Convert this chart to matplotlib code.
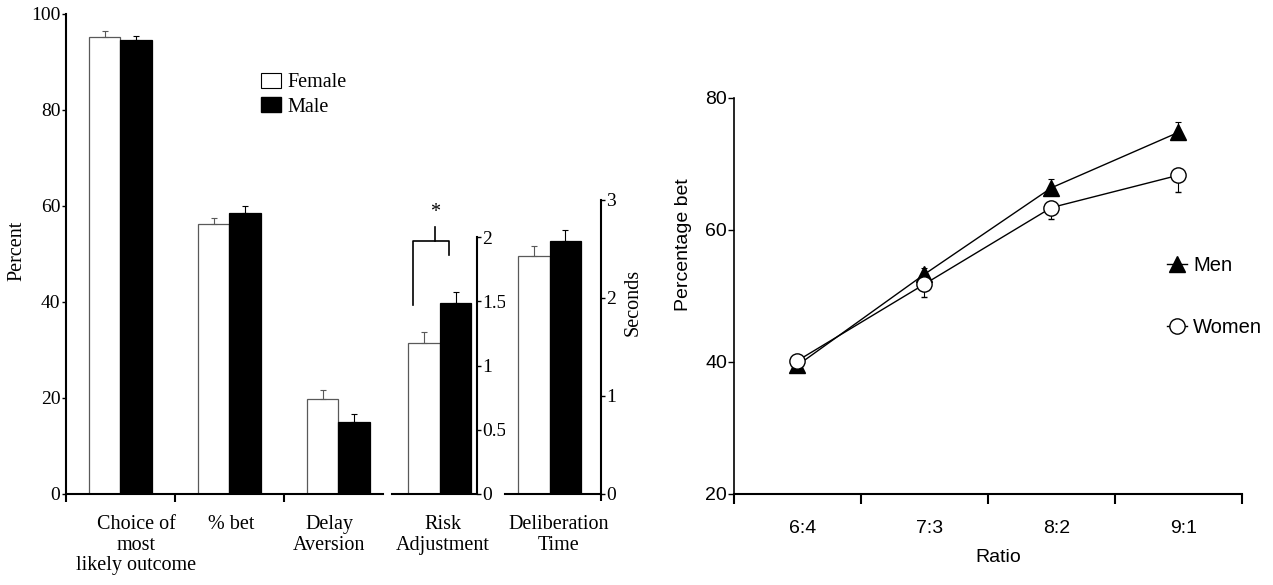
import numpy as np
import matplotlib
matplotlib.use("Agg")
import matplotlib.pyplot as plt
from matplotlib.patches import Patch
from matplotlib.lines import Line2D
from matplotlib.transforms import ScaledTranslation

# left panel: percent measures
pct_cats = ["Choice of\nmost\nlikely outcome", "% bet", "Delay\nAversion"]
pct_female = [95.3, 56.2, 19.8]
pct_female_err = [1.1, 1.4, 1.9]
pct_male = [94.6, 58.6, 15.0]
pct_male_err = [0.9, 1.3, 1.7]

# risk adjustment (own axis 0-2)
risk_female = [1.175]
risk_female_err = [0.085]
risk_male = [1.485]
risk_male_err = [0.09]

# deliberation time (seconds, 0-3)
delib_female = [2.43]
delib_female_err = [0.10]
delib_male = [2.58]
delib_male_err = [0.11]

# right panel: percentage bet by ratio
ratios = ["6:4", "7:3", "8:2", "9:1"]
men = [39.5, 53.3, 66.4, 74.8]
men_err_lo = [0.9, 0, 0, 0]
men_err_hi = [0, 0.9, 1.3, 1.5]
women = [40.2, 51.8, 63.4, 68.3]
women_err_lo = [0.5, 1.9, 1.8, 2.6]
women_err_hi = [0, 0, 0, 0]

W, H = 1273, 585
fig = plt.figure(figsize=(W / 100, H / 100), dpi=100)

def px_axes(x0, x1, ytop, ybot):
    return fig.add_axes([x0 / W, 1 - ybot / H, (x1 - x0) / W, (ybot - ytop) / H])

serif = ["Liberation Serif", "DejaVu Serif"]
sans = ["Liberation Sans", "DejaVu Sans"]
fs = 14.5
tfs = 14
bw = 0.289
ekw = dict(elinewidth=0.8, capthick=0.8, capsize=2.5)

def bar_pair(ax, x, f, fe, m, me):
    x = np.asarray(x, dtype=float)
    ax.bar(x - bw / 2, f, bw, facecolor="white", edgecolor="0.35", linewidth=0.9)
    ax.bar(x + bw / 2, m, bw, facecolor="black", edgecolor="black", linewidth=0.9)
    ax.errorbar(x - bw / 2, f, yerr=[np.zeros(len(f)), fe], fmt="none", ecolor="0.35", **ekw)
    ax.errorbar(x + bw / 2, m, yerr=[np.zeros(len(m)), me], fmt="none", ecolor="black", **ekw)

# ---- percent axes
ax1 = px_axes(66, 383, 14, 494)
xp = np.arange(len(pct_cats))
bar_pair(ax1, xp, pct_female, pct_female_err, pct_male, pct_male_err)
ax1.set_xlim(-0.5, 2.41)
ax1.set_ylim(0, 100)
ax1.set_yticks([0, 20, 40, 60, 80, 100])
ax1.set_xticks([-0.5, 0.5, 1.5])
ax1.set_xticklabels([])
for s in ["top", "right"]:
    ax1.spines[s].set_visible(False)
for s in ["left", "bottom"]:
    ax1.spines[s].set_linewidth(1.5)
ax1.tick_params(axis="y", direction="out", length=3, width=1, pad=1, labelsize=tfs)
ax1.tick_params(axis="x", direction="out", length=6, width=1.5)
for lb in ax1.get_yticklabels():
    lb.set_family(serif)

ax1.legend(handles=[Patch(facecolor="white", edgecolor="black", linewidth=0.8, label="Female"),
                    Patch(facecolor="black", edgecolor="black", label="Male")],
           loc="upper left", bbox_to_anchor=(261 / W, 1 - 73 / H),
           bbox_transform=fig.transFigure, frameon=False, borderpad=0, borderaxespad=0,
           handlelength=1.0, handleheight=0.75, handletextpad=0.3,
           labelspacing=0.25, prop={"family": serif, "size": fs})

# ---- risk adjustment axes
ax2 = px_axes(392, 477, 237, 494)
bar_pair(ax2, [0], risk_female, risk_female_err, risk_male, risk_male_err)
ax2.set_xlim(-0.44, 0.34)
ax2.set_ylim(0, 2)
ax2.set_yticks([0, 0.5, 1, 1.5, 2])
ax2.set_yticklabels(["0", "0.5", "1", "1.5", "2"])
ax2.yaxis.tick_right()
ax2.set_xticks([])
for s in ["top", "left"]:
    ax2.spines[s].set_visible(False)
for s in ["right", "bottom"]:
    ax2.spines[s].set_linewidth(1.5)
ax2.tick_params(axis="y", direction="out", length=3, width=1, pad=1, labelsize=tfs)
for lb in ax2.get_yticklabels():
    lb.set_family(serif)

# significance bracket
bk = dict(color="black", lw=1.2, clip_on=False)
ax2.plot([-0.248, -0.248, 0.083, 0.083], [1.47, 1.97, 1.97, 1.86], **bk)
ax2.plot([-0.046, -0.046], [1.97, 2.08], **bk)
ax2.text(-0.046, 2.12, "*", ha="center", va="bottom", fontsize=fs, family=serif)

# ---- deliberation time axes
ax3 = px_axes(505, 601, 200, 494)
bar_pair(ax3, [0], delib_female, delib_female_err, delib_male, delib_male_err)
ax3.set_xlim(-0.408, 0.472)
ax3.set_ylim(0, 3)
ax3.set_yticks([0, 1, 2, 3])
ax3.yaxis.tick_right()
ax3.set_xticks([0.472])
ax3.set_xticklabels([])
for s in ["top", "left"]:
    ax3.spines[s].set_visible(False)
for s in ["right", "bottom"]:
    ax3.spines[s].set_linewidth(1.5)
ax3.tick_params(axis="y", direction="out", length=3, width=1, pad=1, labelsize=tfs)
ax3.tick_params(axis="x", direction="out", length=5, width=1.5)
for lb in ax3.get_yticklabels():
    lb.set_family(serif)

# category labels under the left panel
cat_x = [136, 231, 329, 443, 559]
cat_txt = pct_cats + ["Risk\nAdjustment", "Deliberation\nTime"]
for x, t in zip(cat_x, cat_txt):
    fig.text(x / W, 1 - 515 / H, t, ha="center", va="top", fontsize=fs,
             family=serif, linespacing=1.12)
fig.text(17 / W, 1 - 251 / H, "Percent", rotation=90, ha="center", va="center",
         fontsize=fs, family=serif)
fig.text(633 / W, 1 - 302 / H, "Seconds", rotation=90, ha="center", va="center",
         fontsize=fs, family=serif)

# ---- right panel
ax4 = px_axes(734, 1242, 98, 494)
xr = np.arange(len(ratios)) + 0.5
ax4.errorbar(xr, men, yerr=[men_err_lo, men_err_hi], color="black", lw=1,
             marker="^", ms=11, mfc="black", mec="black", **ekw)
ax4.errorbar(xr, women, yerr=[women_err_lo, women_err_hi], color="black", lw=1,
             marker="o", ms=11, mfc="white", mec="black", mew=1, **ekw)
ax4.set_xlim(0, 4)
ax4.set_ylim(20, 80)
ax4.set_yticks([20, 40, 60, 80])
ax4.set_xticks([0, 1, 2, 3, 4])
ax4.set_xticklabels([])
ax4.set_xticks(xr, minor=True)
ax4.set_xticklabels(ratios, minor=True)
for s in ["top", "right"]:
    ax4.spines[s].set_visible(False)
ax4.spines["left"].set_linewidth(1.2)
ax4.spines["bottom"].set_linewidth(1.5)
ax4.tick_params(axis="y", direction="out", length=4, width=1, pad=1, labelsize=14)
ax4.tick_params(axis="x", which="major", direction="out", length=7, width=1.5)
ax4.tick_params(axis="x", which="minor", length=0, pad=19, labelsize=14)
for lb in ax4.get_yticklabels():
    lb.set_family(sans)
shift = ScaledTranslation(5 / 100, 0, fig.dpi_scale_trans)
for lb in ax4.get_xticklabels(minor=True):
    lb.set_family(sans)
    lb.set_transform(lb.get_transform() + shift)
fig.text(683 / W, 1 - 245 / H, "Percentage bet", rotation=90, ha="center",
         va="center", fontsize=14, family=sans)
fig.text(998 / W, 1 - 557 / H, "Ratio", ha="center", va="center", fontsize=14,
         family=sans)

ax4.legend(handles=[Line2D([], [], color="black", lw=1, marker="^", ms=11, mfc="black", label="Men"),
                    Line2D([], [], color="black", lw=1, marker="o", ms=11, mfc="white", label="Women")],
           loc="upper left", bbox_to_anchor=(1167 / W, 1 - 256 / H),
           bbox_transform=fig.transFigure, frameon=False, borderpad=0, borderaxespad=0,
           handlelength=1.0, handletextpad=0.3, labelspacing=2.15,
           prop={"family": sans, "size": 14.5})

fig.savefig("out.png", dpi=100)
